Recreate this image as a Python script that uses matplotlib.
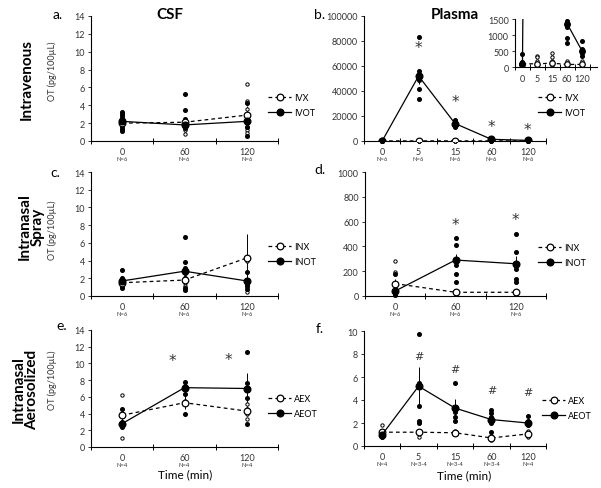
import numpy as np
import matplotlib
matplotlib.use("Agg")
import matplotlib.pyplot as plt

plt.rcParams['font.family'] = ['Lato', 'DejaVu Sans']

# ---- data ----
csf_times = ['0', '60', '120']
plasma_times = ['0', '5', '15', '60', '120']

# a. CSF, intravenous
a_x_mean = [2.0, 2.1, 2.9]
a_x_err = [0.3, 0.5, 1.0]
a_x_pts = [[2.6, 2.2, 1.9, 1.6, 1.3], [2.4, 2.0, 1.5, 1.2, 0.8], [6.4, 4.5, 3.6, 1.6, 1.2, 0.9]]
a_ot_mean = [2.2, 1.8, 2.2]
a_ot_err = [0.3, 0.4, 0.6]
a_ot_pts = [[3.2, 3.0, 2.8, 2.5, 2.2, 2.0, 1.7, 1.4, 1.1], [5.3, 3.5, 2.5, 2.3, 1.8, 1.5],
            [4.3, 2.4, 2.2, 2.0, 1.6, 0.6]]

# b. Plasma, intravenous (also shown in inset)
b_x_mean = [100, 100, 120, 80, 80]
b_x_err = [40, 60, 70, 30, 30]
b_x_pts = [[150, 100, 50], [350, 300, 200, 100, 50], [450, 300, 200, 100, 50],
           [200, 100, 50], [200, 100, 50]]
b_ot_mean = [100, 52000, 14000, 1350, 500]
b_ot_err = [0, 6000, 1500, 150, 100]
b_ot_pts = [[400, 150, 100, 50], [83000, 56000, 53000, 49000, 42000, 33500],
            [17000, 15500, 14000, 12500, 11000], [1450, 1400, 1350, 1250, 900, 750, 50],
            [800, 550, 500, 450, 350, 100, 50]]
b_stars = [None, 76000, 33000, 13000, 11000]

# c. CSF, intranasal spray
c_x_mean = [1.5, 1.8, 4.3]
c_x_err = [0.3, 0.5, 2.7]
c_x_pts = [[1.8, 1.5, 1.3, 1.1], [2.0, 1.5, 1.1], [3.9, 1.1, 0.4]]
c_ot_mean = [1.7, 2.8, 1.7]
c_ot_err = [0.3, 0.6, 0.4]
c_ot_pts = [[2.9, 2.0, 1.8, 1.5, 1.3, 1.1, 0.9], [6.7, 3.8, 3.2, 2.6, 2.0, 0.9, 0.7],
            [2.7, 1.7, 1.4, 1.1, 0.8]]

# d. Plasma, intranasal spray
d_x_mean = [100, 30, 30]
d_x_err = [40, 10, 10]
d_x_pts = [[285, 190, 100, 40], [40, 20], [40, 20]]
d_ot_mean = [40, 290, 260]
d_ot_err = [20, 50, 60]
d_ot_pts = [[180, 40, 20, 10], [470, 410, 290, 250, 180, 110, 40, 20],
            [500, 355, 260, 215, 140, 110, 40, 20]]
d_stars = [None, 600, 640]

# e. CSF, intranasal aerosolized
e_x_mean = [3.8, 5.3, 4.3]
e_x_err = [0.8, 0.8, 0.6]
e_x_pts = [[6.2, 4.0, 1.1], [5.5], [5.2, 4.6, 4.0, 3.3]]
e_ot_mean = [2.8, 7.1, 7.0]
e_ot_err = [0.5, 0.6, 1.8]
e_ot_pts = [[4.5, 3.0, 2.7, 2.4], [7.8, 7.3, 6.4, 3.9], [11.4, 7.6, 5.9, 2.8]]
e_stars_x = [1.3, 2.2]
e_stars_y = [10.7, 10.8]

# f. Plasma, intranasal aerosolized
f_x_mean = [1.2, 1.2, 1.15, 0.7, 1.05]
f_x_err = [0.3, 0.2, 0.15, 0.2, 0.15]
f_x_pts = [[1.8, 1.3], [1.2, 0.8], [1.3, 1.1], [0.9, 0.5], [1.3, 0.8]]
f_ot_mean = [1.0, 5.2, 3.3, 2.3, 2.0]
f_ot_err = [0.3, 1.7, 0.8, 0.4, 0.3]
f_ot_pts = [[1.1, 0.9, 0.8], [9.7, 5.5, 3.5, 2.2, 2.0], [5.5, 3.0, 2.5, 2.2],
            [3.1, 2.9, 2.5, 2.0, 1.2], [2.6, 2.2, 1.8, 1.0]]
f_hash = [None, 7.8, 6.7, 4.9, 4.7]

fig = plt.figure(figsize=(6.01, 4.89), dpi=100)
W, H = 601.0, 489.0
GREY = '#333333'


def axes_px(x0, y_top, x1, y_bot):
    return fig.add_axes([x0 / W, 1 - y_bot / H, (x1 - x0) / W, (y_bot - y_top) / H])


def draw(ax, times, xm, xe, xp, om, oe, op, names, ymax, ystep, nlabels=None, inset=False):
    n = len(times)
    xs = np.arange(n) + 0.5
    ms = 4.0 if inset else 4.8
    for i in range(n):
        ax.plot([xs[i]] * len(xp[i]), xp[i], 'o', ms=2.4, mfc='white', mec='black', mew=0.7,
                zorder=3, clip_on=inset)
        ax.plot([xs[i]] * len(op[i]), op[i], 'o', ms=2.6, color='black', zorder=3, clip_on=inset)
    ax.errorbar(xs, xm, yerr=xe, fmt='none', ecolor='black', elinewidth=0.7, zorder=2)
    ax.errorbar(xs, om, yerr=oe, fmt='none', ecolor='black', elinewidth=0.7, zorder=2)
    ax.plot(xs, xm, ls=(0, (3, 2.5)), color='black', lw=0.9, marker='o', ms=ms,
            mfc='white', mec='black', mew=0.9, label=names[0], zorder=4)
    ax.plot(xs, om, ls='-', color='black', lw=0.9, marker='o', ms=ms, label=names[1], zorder=5)
    ax.set_xlim(0, n + (0.5 if inset else 0))
    ax.set_ylim(0, ymax)
    for s in ['top', 'right']:
        ax.spines[s].set_visible(False)
    for s in ['left', 'bottom']:
        ax.spines[s].set_linewidth(0.8)
    ax.set_yticks(np.arange(0, ymax + 1e-9, ystep))
    ax.tick_params(axis='y', labelsize=6.5, length=2.5, width=0.7, pad=2, colors=GREY)
    ax.set_xticks(np.arange(0, n + 1))
    ax.set_xticklabels([])
    ax.tick_params(axis='x', direction='inout', length=4, width=0.7)
    if inset:
        ax.set_xticks(xs, minor=True)
        ax.set_xticklabels(times, minor=True, fontsize=6.5, color=GREY)
        ax.tick_params(axis='x', which='minor', length=0, pad=5)
    else:
        for i in range(n):
            ax.annotate(times[i], (xs[i], 0), xycoords=('data', 'axes fraction'),
                        xytext=(0, -4), textcoords='offset points', ha='center', va='top',
                        fontsize=6.5, color=GREY)
            ax.annotate(nlabels[i], (xs[i], 0), xycoords=('data', 'axes fraction'),
                        xytext=(0, -11), textcoords='offset points', ha='center', va='top',
                        fontsize=4.2, color=GREY)


def legend(ax, x_px, y_px):
    ax.legend(loc='center left', bbox_to_anchor=(x_px / W, 1 - y_px / H), bbox_transform=fig.transFigure,
              frameon=False, fontsize=6.5, handlelength=2.6, handletextpad=0.3, borderpad=0,
              borderaxespad=0, labelspacing=0.7)


def star(ax, x, y, s='*', size=11):
    ax.text(x, y, s, ha='center', va='center', fontsize=size, color=GREY, family='DejaVu Sans')


ax_a = axes_px(91, 17, 278, 142)
draw(ax_a, csf_times, a_x_mean, a_x_err, a_x_pts, a_ot_mean, a_ot_err, a_ot_pts,
     ['IVX', 'IVOT'], 14, 2, ['N=6'] * 3)
legend(ax_a, 268, 106)

ax_b = axes_px(364, 17, 546, 142)
draw(ax_b, plasma_times, b_x_mean, b_x_err, b_x_pts, b_ot_mean, b_ot_err, b_ot_pts,
     ['IVX', 'IVOT'], 100000, 20000, ['N=6'] * 5)
for i, s in enumerate(b_stars):
    if s is not None:
        star(ax_b, i + 0.5, s - 1500)
legend(ax_b, 538, 106)

ax_in = axes_px(515, 20, 597, 68)
draw(ax_in, plasma_times, b_x_mean, b_x_err, b_x_pts, b_ot_mean, b_ot_err, b_ot_pts,
     ['IVX', 'IVOT'], 1500, 500, inset=True)

ax_c = axes_px(91, 173, 278, 297)
draw(ax_c, csf_times, c_x_mean, c_x_err, c_x_pts, c_ot_mean, c_ot_err, c_ot_pts,
     ['INX', 'INOT'], 14, 2, ['N=6'] * 3)
legend(ax_c, 268, 255)

ax_d = axes_px(365, 173, 546, 297)
draw(ax_d, csf_times, d_x_mean, d_x_err, d_x_pts, d_ot_mean, d_ot_err, d_ot_pts,
     ['INX', 'INOT'], 1000, 200, ['N=6'] * 3)
for i, s in enumerate(d_stars):
    if s is not None:
        star(ax_d, i + 0.5, s - 20)
legend(ax_d, 538, 256)

ax_e = axes_px(91, 331, 278, 448)
draw(ax_e, csf_times, e_x_mean, e_x_err, e_x_pts, e_ot_mean, e_ot_err, e_ot_pts,
     ['AEX', 'AEOT'], 14, 2, ['N=4'] * 3)
for sx, sy in zip(e_stars_x, e_stars_y):
    star(ax_e, sx, sy - 0.3)
legend(ax_e, 268, 407)

ax_f = axes_px(364, 332, 546, 447)
draw(ax_f, plasma_times, f_x_mean, f_x_err, f_x_pts, f_ot_mean, f_ot_err, f_ot_pts,
     ['AEX', 'AEOT'], 10, 2, ['N=4', 'N=3-4', 'N=3-4', 'N=3-4', 'N=4'])
for i, s in enumerate(f_hash):
    if s is not None:
        star(ax_f, i + 0.5, s, '#', 8)
legend(ax_f, 542, 409)

# titles, panel letters, row labels
fig.text(170 / W, 1 - 15 / H, 'CSF', ha='center', va='center', fontsize=11, fontweight='bold')
fig.text(455 / W, 1 - 15 / H, 'Plasma', ha='center', va='center', fontsize=11, fontweight='bold')
for lab, x, y in [('a.', 58, 15), ('b.', 320, 15), ('c.', 55, 173), ('d.', 320, 170),
                  ('e.', 62, 326), ('f.', 320, 329)]:
    fig.text(x / W, 1 - y / H, lab, ha='center', va='center', fontsize=10)

fig.text(27 / W, 1 - 80 / H, 'Intravenous', rotation=90, ha='center', va='center',
         fontsize=11, fontweight='bold')
fig.text(31 / W, 1 - 227 / H, 'Intranasal\nSpray', rotation=90, ha='center', va='center',
         fontsize=11, fontweight='bold', linespacing=0.95, multialignment='center')
fig.text(25 / W, 1 - 390 / H, 'Intranasal\nAerosolized', rotation=90, ha='center', va='center',
         fontsize=11, fontweight='bold', linespacing=0.95, multialignment='center')
for y in [71, 230, 380]:
    fig.text(52 / W, 1 - y / H, 'OT (pg/100\u00b5L)', rotation=90, ha='center', va='center',
             fontsize=6.5, color=GREY)

fig.text(185 / W, 1 - 475 / H, 'Time (min)', ha='center', va='center', fontsize=8.5)
fig.text(464 / W, 1 - 476 / H, 'Time (min)', ha='center', va='center', fontsize=8.5)

fig.savefig('out.png', dpi=100)
